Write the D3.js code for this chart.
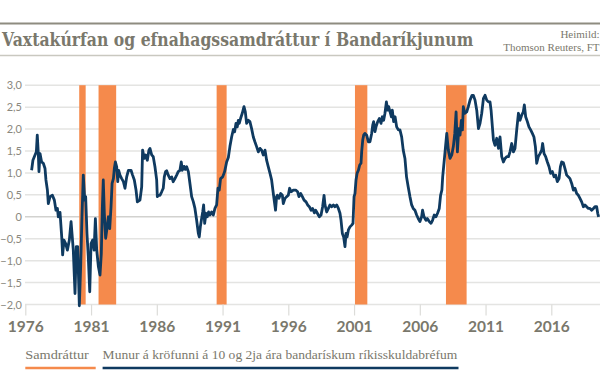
<!DOCTYPE html>
<html><head><meta charset="utf-8">
<script src="https://cdn.jsdelivr.net/npm/d3@7"></script>
<style>
html,body{margin:0;padding:0;background:#fff;}
svg{display:block;}
</style></head>
<body><svg id="c" width="600" height="381"></svg>
<script>
const title = "Vaxtakúrfan og efnahagssamdráttur í Bandaríkjunum";
const sourceLines = ["Heimild:", "Thomson Reuters, FT"];
const legendLabels = ["Samdráttur", "Munur á kröfunni á 10 og 2ja ára bandarískum ríkisskuldabréfum"];
const xTicks = [1976, 1981, 1986, 1991, 1996, 2001, 2006, 2011, 2016];
const yTicks = [-2, -1.5, -1, -0.5, 0, 0.5, 1, 1.5, 2, 2.5, 3];
const recStart = [1980.1, 1981.57, 1990.55, 2001.07, 2007.99];
const recEnd   = [1980.59, 1982.91, 1991.31, 2002.01, 2009.56];
const dates = [1976.48,1976.58,1976.74,1976.84,1976.91,1976.99,1977.04,1977.12,1977.24,1977.37,1977.50,1977.57,1977.68,1977.75,1977.88,1978.06,1978.21,1978.33,1978.44,1978.51,1978.64,1978.77,1978.84,1978.94,1979.07,1979.20,1979.35,1979.48,1979.55,1979.65,1979.78,1979.88,1979.98,1980.11,1980.21,1980.31,1980.41,1980.52,1980.59,1980.69,1980.79,1980.90,1981.00,1981.12,1981.23,1981.33,1981.43,1981.56,1981.68,1981.78,1981.86,1981.93,1982.01,1982.11,1982.21,1982.32,1982.42,1982.52,1982.60,1982.70,1982.77,1982.85,1982.95,1983.03,1983.10,1983.20,1983.33,1983.46,1983.58,1983.71,1983.84,1984.04,1984.16,1984.29,1984.42,1984.52,1984.72,1984.85,1984.92,1985.05,1985.15,1985.28,1985.40,1985.48,1985.61,1985.73,1985.86,1985.99,1986.04,1986.11,1986.24,1986.37,1986.49,1986.57,1986.67,1986.75,1986.87,1987.00,1987.13,1987.25,1987.38,1987.51,1987.63,1987.76,1987.86,1987.94,1988.07,1988.17,1988.27,1988.40,1988.52,1988.65,1988.78,1988.90,1989.03,1989.16,1989.23,1989.31,1989.41,1989.49,1989.56,1989.64,1989.74,1989.84,1989.94,1990.04,1990.17,1990.30,1990.42,1990.55,1990.65,1990.75,1990.85,1991.01,1991.16,1991.31,1991.44,1991.56,1991.69,1991.82,1991.92,1992.02,1992.12,1992.20,1992.27,1992.37,1992.50,1992.63,1992.73,1992.83,1992.96,1993.08,1993.21,1993.34,1993.46,1993.59,1993.72,1993.85,1993.97,1994.10,1994.23,1994.35,1994.48,1994.61,1994.73,1994.86,1995.03,1995.11,1995.17,1995.29,1995.42,1995.55,1995.62,1995.75,1995.88,1996.00,1996.10,1996.21,1996.38,1996.56,1996.71,1996.81,1996.94,1997.07,1997.20,1997.35,1997.47,1997.60,1997.73,1997.85,1997.98,1998.08,1998.21,1998.36,1998.49,1998.61,1998.72,1998.79,1998.92,1999.05,1999.17,1999.30,1999.43,1999.55,1999.68,1999.81,1999.93,2000.01,2000.11,2000.21,2000.31,2000.39,2000.47,2000.57,2000.69,2000.82,2000.92,2001.00,2001.07,2001.15,2001.23,2001.33,2001.43,2001.53,2001.58,2001.66,2001.73,2001.83,2001.96,2002.09,2002.21,2002.34,2002.42,2002.49,2002.59,2002.67,2002.80,2002.92,2003.05,2003.15,2003.25,2003.35,2003.46,2003.56,2003.63,2003.74,2003.84,2003.91,2004.01,2004.12,2004.24,2004.37,2004.49,2004.62,2004.74,2004.87,2004.99,2005.12,2005.25,2005.38,2005.50,2005.63,2005.76,2005.88,2006.01,2006.14,2006.21,2006.32,2006.47,2006.57,2006.72,2006.85,2006.97,2007.10,2007.23,2007.35,2007.48,2007.58,2007.68,2007.74,2007.92,2008.05,2008.17,2008.30,2008.43,2008.55,2008.66,2008.76,2008.86,2008.96,2009.06,2009.16,2009.24,2009.31,2009.42,2009.57,2009.69,2009.82,2009.97,2010.07,2010.20,2010.33,2010.46,2010.58,2010.71,2010.84,2010.96,2011.09,2011.22,2011.34,2011.42,2011.52,2011.60,2011.72,2011.85,2011.98,2012.10,2012.23,2012.36,2012.48,2012.61,2012.74,2012.86,2012.99,2013.12,2013.24,2013.37,2013.50,2013.62,2013.75,2013.87,2013.95,2014.05,2014.18,2014.30,2014.43,2014.56,2014.68,2014.79,2014.89,2015.01,2015.14,2015.27,2015.34,2015.45,2015.57,2015.70,2015.83,2015.95,2016.08,2016.21,2016.33,2016.46,2016.59,2016.69,2016.79,2016.92,2017.04,2017.17,2017.30,2017.42,2017.55,2017.68,2017.80,2017.93,2018.06,2018.18,2018.31,2018.44,2018.56,2018.69,2018.82,2018.94,2019.07,2019.20,2019.32,2019.45,2019.53,2019.60];
const spread = [1.06,1.29,1.41,1.48,1.86,1.44,1.03,1.44,1.25,1.22,1.10,0.84,0.61,0.30,0.46,0.49,0.38,0.15,0.19,0.00,0.10,-0.46,-0.87,-0.53,-0.61,-0.76,-0.53,-0.11,-0.38,-0.76,-1.75,-0.68,-0.68,-2.03,-1.14,0.00,0.95,0.38,0.46,-0.38,-0.91,-1.71,-0.61,-0.53,-0.76,-0.04,-0.76,-1.14,-1.33,-0.84,0.23,0.84,0.08,-0.49,-0.27,0.00,-0.27,0.23,0.76,0.87,1.10,1.25,1.14,0.80,1.06,0.95,0.87,0.80,0.65,0.91,1.06,1.06,0.95,0.84,0.61,0.34,0.38,0.68,1.52,1.33,1.41,1.29,1.52,1.56,1.41,1.37,1.14,0.84,0.46,0.49,0.49,0.57,0.65,0.91,1.03,1.05,0.95,0.87,0.91,0.80,0.87,0.95,1.03,1.06,1.25,1.06,1.15,1.08,1.14,1.03,0.76,0.46,0.34,0.19,-0.08,-0.38,-0.46,-0.23,-0.04,0.11,0.27,-0.15,0.08,0.00,0.11,0.04,0.11,0.04,0.19,0.27,0.65,0.61,0.87,0.91,1.03,1.25,1.35,1.60,1.82,1.99,1.94,2.13,2.05,2.20,2.13,2.24,2.36,2.51,2.39,2.13,2.20,2.17,2.01,1.82,1.71,1.60,1.48,1.56,1.52,1.41,1.52,1.29,1.14,0.99,0.84,0.53,0.15,0.46,0.49,0.42,0.53,0.49,0.30,0.42,0.46,0.49,0.65,0.57,0.61,0.61,0.57,0.46,0.53,0.46,0.38,0.34,0.27,0.23,0.15,0.19,0.09,0.15,0.08,0.00,0.04,0.23,0.49,0.27,0.11,0.19,0.27,0.23,0.27,0.23,0.27,0.19,0.08,-0.08,-0.38,-0.46,-0.68,-0.38,-0.46,-0.30,-0.23,-0.19,-0.15,0.46,0.53,0.84,0.99,1.06,1.18,1.22,1.48,1.75,1.86,1.90,1.86,1.71,1.71,1.90,2.09,2.17,1.94,2.05,2.17,2.24,2.13,2.28,2.20,2.36,2.62,2.43,2.51,2.39,2.28,2.43,2.17,2.28,2.05,1.98,1.98,1.82,1.52,1.33,0.91,0.68,0.46,0.27,0.19,0.15,0.04,-0.04,-0.11,0.00,0.15,0.00,-0.08,-0.04,-0.11,-0.15,-0.08,0.04,0.00,0.08,0.19,0.49,0.61,0.91,1.48,1.90,1.52,1.33,1.41,1.60,1.90,2.39,1.48,2.01,1.86,2.20,1.98,2.51,2.36,2.39,2.51,2.66,2.77,2.77,2.66,2.43,2.01,2.13,2.36,2.70,2.77,2.66,2.62,2.62,2.43,2.05,1.75,1.63,1.79,1.56,1.82,1.37,1.25,1.33,1.37,1.37,1.48,1.67,1.48,1.56,1.98,2.36,2.20,2.32,2.39,2.55,2.28,2.17,2.05,1.98,1.90,1.82,1.60,1.22,1.37,1.44,1.52,1.67,1.44,1.37,1.25,1.14,0.99,1.03,0.91,0.95,0.80,0.87,1.14,1.25,1.23,1.10,0.95,0.91,0.87,0.76,0.61,0.65,0.53,0.49,0.42,0.34,0.23,0.27,0.23,0.19,0.19,0.15,0.19,0.23,0.23,0.08,0.00];

const svg = d3.select("#c");
const grey = "#7a786c";
const orange = "#f58a4c";
const navy = "#0f3a60";

// header rules
svg.append("line").attr("x1",0).attr("x2",600).attr("y1",23.5).attr("y2",23.5).attr("stroke","#8e8c80").attr("stroke-width",2);
svg.append("line").attr("x1",0).attr("x2",600).attr("y1",55.5).attr("y2",55.5).attr("stroke","#c9c8c0").attr("stroke-width",1.5);

// title: scaled horizontally to fit its width in the reference
const tg = svg.append("g");
const tt = tg.append("text").text(title)
  .attr("x",0).attr("y",0)
  .attr("font-family","DejaVu Serif").attr("font-weight","bold").attr("font-size",18.5)
  .attr("fill",grey);
const natW = tt.node().getComputedTextLength();
tg.attr("transform",`translate(2,45.5) scale(${472/natW},1)`);

svg.selectAll("text.src").data(sourceLines).enter().append("text").attr("class","src")
  .text(d=>d).attr("x",599.5).attr("y",(d,i)=>37.5+i*13).attr("text-anchor","end")
  .attr("font-family","Liberation Serif").attr("font-size",11).attr("fill",grey);

const x = d3.scaleLinear().domain([1976, 2020]).range([25.3, 25.3 + 44*13.15]);
const y = d3.scaleLinear().domain([-2, 3]).range([304.5, 85.2]);

// grid + y labels
const yAxis = d3.axisLeft(y).tickValues(yTicks).tickSize(0)
  .tickFormat(d => d === 0 ? "0" : d3.format(".1f")(d).replace(".", ","));
const gy = svg.append("g").attr("transform","translate(22,0)").call(yAxis);
gy.select(".domain").remove();
gy.selectAll("text").attr("x",0).attr("dy","0.34em").attr("font-family","Lato").attr("font-size",11).attr("fill","#8a887e");
svg.append("g").selectAll("line").data(yTicks).enter().append("line")
  .attr("x1",25).attr("x2",600).attr("y1",d=>y(d)).attr("y2",d=>y(d))
  .attr("stroke",d=>d===0?"#d2d2cf":"#e4e4e2").attr("stroke-width",1.5);

// recession bands
svg.append("g").selectAll("rect").data(recStart).enter().append("rect")
  .attr("x",(d)=>x(d)).attr("width",(d,i)=>x(recEnd[i])-x(d))
  .attr("y",y(3)).attr("height",y(-2)-y(3)).attr("fill",orange);

// x axis
const xAxis = d3.axisBottom(x).tickValues(xTicks).tickSize(11).tickPadding(5).tickFormat(d3.format("d"));
const gx = svg.append("g").attr("transform",`translate(0,${y(-2)})`).call(xAxis);
gx.select(".domain").remove();
gx.selectAll(".tick line").attr("stroke","#dcdcd9").attr("stroke-width",1.2);
gx.selectAll("text").attr("font-family","Lato").attr("font-weight","bold").attr("font-size",15.5).attr("fill",grey);

// line
const pts = dates.map((d,i)=>[d, spread[i]]);
svg.append("path").datum(pts)
  .attr("d", d3.line().x(d=>x(d[0])).y(d=>y(d[1])))
  .attr("fill","none").attr("stroke",navy).attr("stroke-width",2.8).attr("stroke-linejoin","round");

// legend
const legX = [25.3, 102.6];
const legW = [70.4, 355.9];
const legTW = [63.5, 354.7];
const legC = [orange, navy];
legendLabels.forEach((t,i)=>{
  svg.append("text").text(t).attr("x",legX[i]).attr("y",359)
    .attr("font-family","Liberation Serif").attr("font-size",13.5).attr("fill",grey)
    .attr("textLength",legTW[i]).attr("lengthAdjust","spacingAndGlyphs");
  svg.append("line").attr("x1",legX[i]).attr("x2",legX[i]+legW[i]).attr("y1",368).attr("y2",368)
    .attr("stroke",legC[i]).attr("stroke-width",2.5);
});
</script></body></html>
